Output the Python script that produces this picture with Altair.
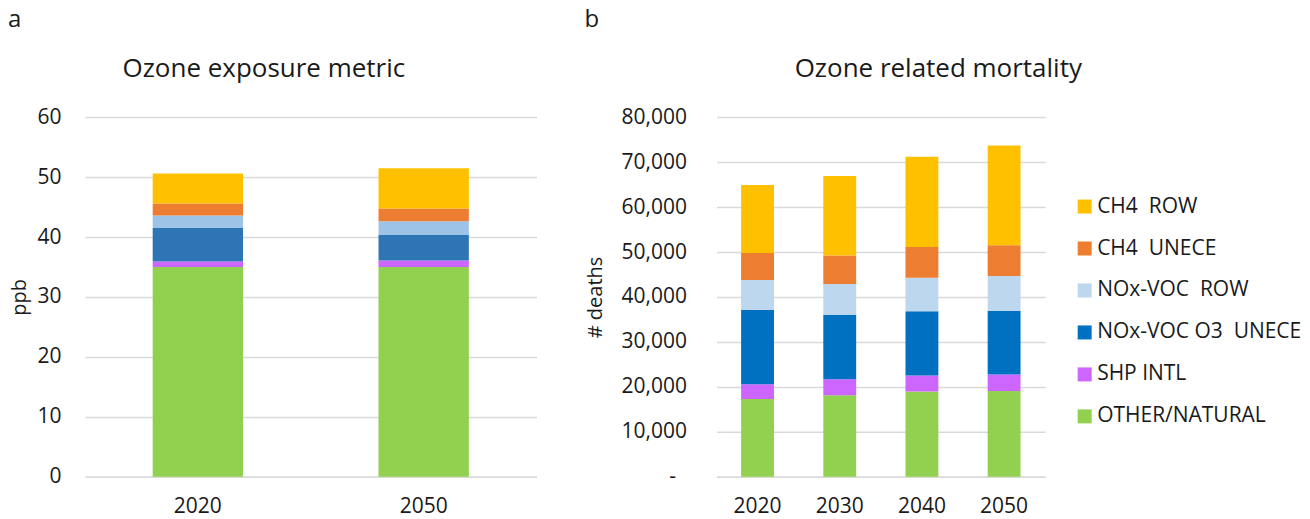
import altair as alt
import pandas as pd

FONT = "Open Sans"
TXT = "#1a1a1a"
GRID = "#D9D9D9"

# ---- series (bottom -> top) ----
series = ["OTHER/NATURAL", "SHP INTL", "NOx-VOC O3\u00a0\u00a0UNECE",
          "NOx-VOC\u00a0\u00a0ROW", "CH4\u00a0\u00a0UNECE", "CH4\u00a0\u00a0ROW"]
legend_order = list(reversed(series))

# ---- panel a: ozone exposure metric (ppb) ----
years_a = ["2020", "2050"]
a_other = [35.0, 35.0]
a_shp = [0.9, 1.1]
a_nox_unece = [5.6, 4.25]
a_nox_row = [2.1, 2.3]
a_ch4_unece = [2.0, 2.1]
a_ch4_row = [5.0, 6.7]
colors_a = ["#92D050", "#CC66FF", "#2E75B6", "#9DC3E6", "#ED7D31", "#FFC000"]

# ---- panel b: ozone related mortality (# deaths) ----
years_b = ["2020", "2030", "2040", "2050"]
b_other = [17300, 18150, 19000, 19100]
b_shp = [3300, 3550, 3550, 3650]
b_nox_unece = [16550, 14340, 14250, 14170]
b_nox_row = [6650, 6860, 7500, 7720]
b_ch4_unece = [6000, 6300, 6800, 6840]
b_ch4_row = [15100, 17700, 20100, 22190]
colors_b = ["#92D050", "#CC66FF", "#0070C0", "#BDD7EE", "#ED7D31", "#FFC000"]


def long_df(years, cols):
    rows = []
    for rank, (name, vals) in enumerate(zip(series, cols)):
        for y, v in zip(years, vals):
            rows.append({"year": y, "series": name, "value": v, "rank": rank})
    return pd.DataFrame(rows)


df_a = long_df(years_a, [a_other, a_shp, a_nox_unece, a_nox_row, a_ch4_unece, a_ch4_row])
df_b = long_df(years_b, [b_other, b_shp, b_nox_unece, b_nox_row, b_ch4_unece, b_ch4_row])


def panel(df, width, ymax, step, colors, title, title_x, ytitle, ytitle_size,
          label_expr, legend, letter, letter_x, lab_pad, title_pad):
    color_range = [colors[series.index(s)] for s in legend_order]
    bars = alt.Chart(df).mark_bar().encode(
        x=alt.X("year:N", title=None,
                scale=alt.Scale(paddingInner=0.6, paddingOuter=0.3),
                axis=alt.Axis(labelAngle=0, ticks=False, domainColor=GRID,
                              domainWidth=1.5, labelFont=FONT, labelFontSize=21,
                              labelColor=TXT, labelPadding=19)),
        y=alt.Y("value:Q", stack="zero", title=ytitle,
                scale=alt.Scale(domain=[0, ymax], nice=False),
                axis=alt.Axis(values=list(range(0, ymax + 1, step)),
                              labelExpr=label_expr, ticks=False, domain=False,
                              gridColor=GRID, gridWidth=1.5,
                              labelFont=FONT, labelFontSize=21, labelColor=TXT,
                              labelPadding=lab_pad, titleFont=FONT,
                              titleFontSize=ytitle_size, titleFontWeight="normal",
                              titleColor=TXT, titlePadding=title_pad)),
        color=alt.Color("series:N",
                        scale=alt.Scale(domain=legend_order, range=color_range),
                        legend=legend),
        order=alt.Order("rank:Q", sort="ascending"),
    )
    letter_df = pd.DataFrame({"t": [letter]})
    let = alt.Chart(letter_df).mark_text(
        font=FONT, fontSize=24, color=TXT, align="left", baseline="alphabetic"
    ).encode(x=alt.value(letter_x), y=alt.value(-90), text="t:N")
    title_df = pd.DataFrame({"t": [title]})
    ttl = alt.Chart(title_df).mark_text(
        font=FONT, fontSize=26, color=TXT, align="center", baseline="alphabetic"
    ).encode(x=alt.value(title_x), y=alt.value(-40), text="t:N")
    return alt.layer(bars, let, ttl).properties(width=width, height=360)


left = panel(df_a, 452, 60, 10, colors_a, "Ozone exposure metric", 179, "ppb", 20,
             "datum.label", None, "a", -77, 24, 7)

legend_b = alt.Legend(title=None, orient="none", legendX=358, legendY=79,
                      symbolType="square", symbolSize=196, symbolStrokeWidth=0,
                      labelFont=FONT, labelFontSize=21, labelColor=TXT,
                      labelLimit=0, rowPadding=20, labelOffset=2)

right = panel(df_b, 329, 80000, 10000, colors_b, "Ozone related mortality", 222,
              "# deaths", 20,
              "datum.value == 0 ? '-' : format(datum.value, ',')",
              legend_b, "b", -132,
              {"condition": {"test": "datum.value === 0", "value": 41}, "value": 30},
              16)

chart = alt.hconcat(left, right, spacing=48).resolve_scale(
    color="independent", y="independent", x="independent"
).properties(padding=0).configure_view(stroke=None)

chart.save("out.html", embed_options={"renderer": "svg", "actions": False})
